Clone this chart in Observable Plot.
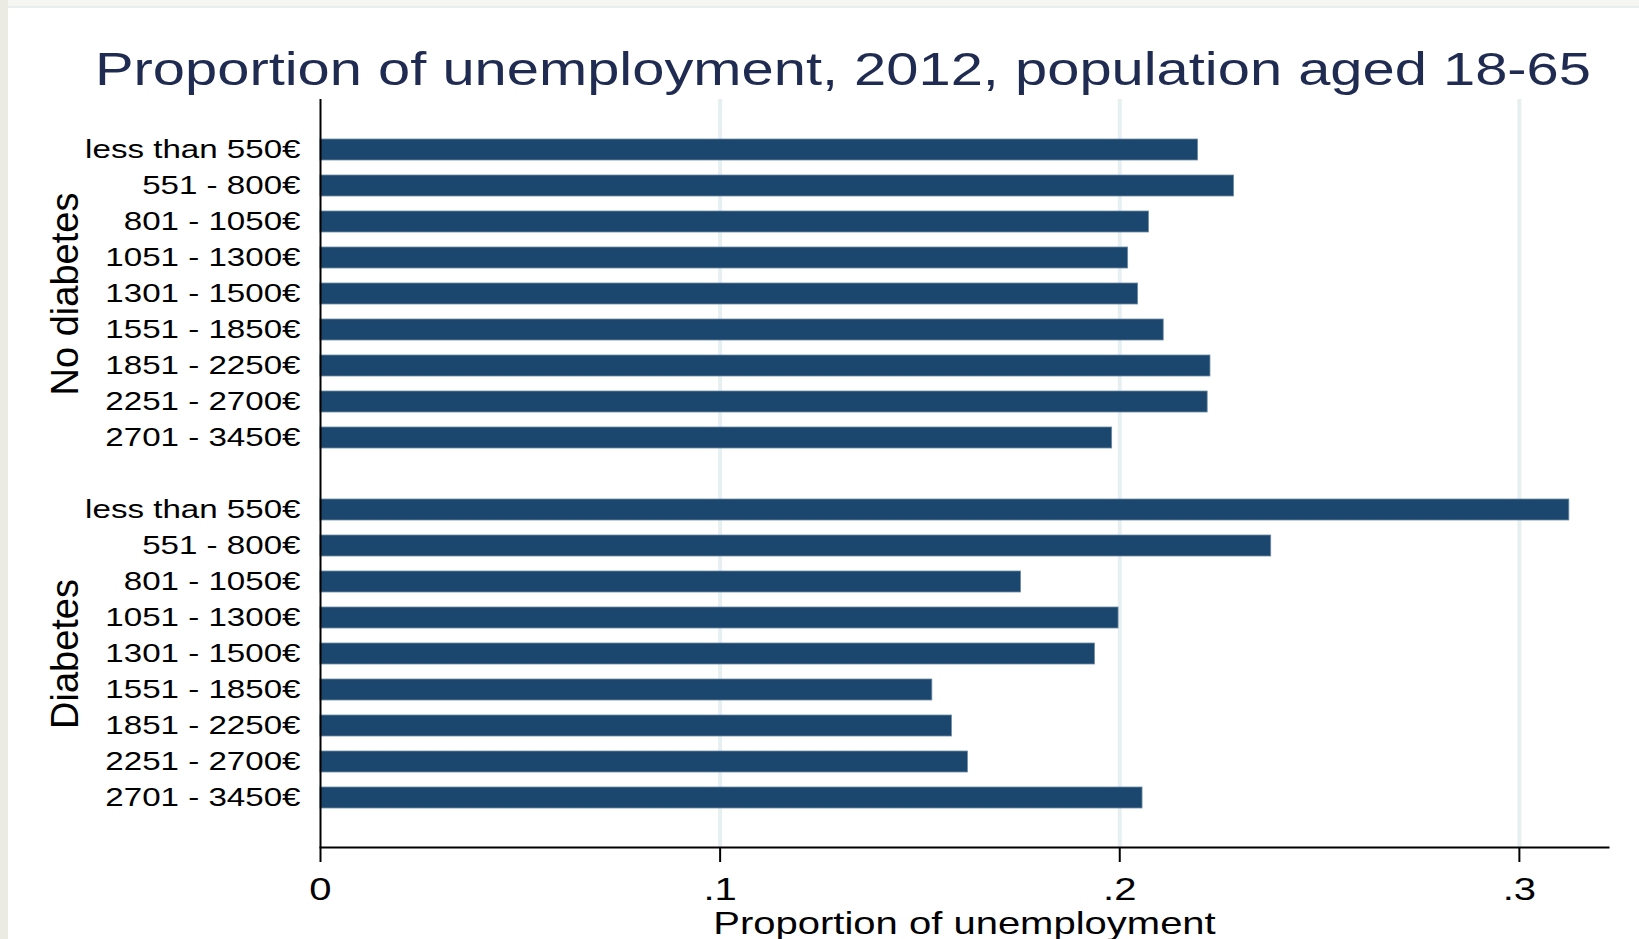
<!DOCTYPE html>
<html><head><meta charset="utf-8">
<script src="https://cdn.jsdelivr.net/npm/d3@7"></script>
<script src="https://cdn.jsdelivr.net/npm/@observablehq/plot@0.6"></script>
<style>
html,body{margin:0;padding:0;background:#fff;}
body{width:1639px;height:939px;position:relative;overflow:hidden;font-family:"Liberation Sans",Arial,sans-serif;}
#topband{position:absolute;left:0;top:0;width:1639px;height:6px;background:#f5f5f1;border-bottom:2px solid #e6eeee;}
#leftband{position:absolute;left:0;top:0;width:8px;height:939px;background:#ecebe3;}
#title{position:absolute;left:95px;top:46px;font-size:46px;line-height:46px;color:#1f2b50;white-space:nowrap;transform:scaleX(1.258);transform-origin:0 0;}
#chart{position:absolute;left:0;top:90px;}
</style></head>
<body>
<div id="topband"></div><div id="leftband"></div>
<div id="title"></div>
<div id="chart"></div>
<script>
const title = "Proportion of unemployment, 2012, population aged 18-65";
const xLabel = "Proportion of unemployment";
const groups = ["No diabetes", "Diabetes"];
const incomeBands = ["less than 550€", "551 - 800€", "801 - 1050€", "1051 - 1300€", "1301 - 1500€", "1551 - 1850€", "1851 - 2250€", "2251 - 2700€", "2701 - 3450€"];
const noDiabetes = [0.2196, 0.2286, 0.2073, 0.2021, 0.2046, 0.2110, 0.2227, 0.2220, 0.1981];
const diabetes = [0.3125, 0.2379, 0.1753, 0.1997, 0.1938, 0.1531, 0.1580, 0.1620, 0.2057];
const xTicks = [0, 0.1, 0.2, 0.3];
const xTickLabels = ["0", ".1", ".2", ".3"];

document.getElementById("title").textContent = title;

const seriesByGroup = [noDiabetes, diabetes];
const keyOf = (g, b) => g + "|" + b;
const spacer = "|";
const rows = [];
groups.forEach((g, gi) => incomeBands.forEach((b, bi) => rows.push({group: g, band: b, key: keyOf(g, b), value: seriesByGroup[gi][bi]})));
const rowKeys = rows.map(r => r.key);
const yDomain = [...rowKeys.slice(0, incomeBands.length), spacer, ...rowKeys.slice(incomeBands.length)];
const midBand = incomeBands[Math.floor(incomeBands.length / 2)];
const groupLabelRows = groups.map(g => ({group: g, key: keyOf(g, midBand)}));

const chart = Plot.plot({
  width: 1639, height: 849,
  marginTop: 9, marginBottom: 92, marginLeft: 320, marginRight: 31,
  style: {fontFamily: '"Liberation Sans", Arial, sans-serif', fontSize: "26.5px", color: "black", background: "transparent", overflow: "visible"},
  x: {domain: [0, 0.3223], axis: null},
  y: {domain: yDomain, paddingInner: 0.417, paddingOuter: 1.09, axis: null},
  marks: [
    Plot.ruleX(xTicks.slice(1), {stroke: "#e7eff1", strokeWidth: 4}),
    Plot.barX(rows, {x: "value", y: "key", fill: "#1b476e", stroke: "#6d8aa4", strokeWidth: 0.8}),
    Plot.ruleX([0], {stroke: "black", strokeWidth: 2}),
    Plot.frame({anchor: "bottom", stroke: "black", strokeWidth: 2}),
    Plot.axisX({ticks: xTicks, anchor: "bottom", tickSize: 15, tickPadding: 15, strokeWidth: 2, fontSize: 32,
      tickFormat: d => xTickLabels[xTicks.indexOf(d)], label: null}),
    Plot.axisY({ticks: rowKeys, anchor: "left", tickSize: 0, tickPadding: 20, fontSize: 26.5,
      tickFormat: k => k.split("|")[1], label: null}),
    Plot.text([xLabel], {frameAnchor: "bottom", dy: 64, lineAnchor: "top", fontSize: 32}),
    Plot.text(groupLabelRows, {y: "key", text: "group", frameAnchor: "left", dx: -243, rotate: -90,
      textAnchor: "middle", lineAnchor: "bottom", fontSize: 38})
  ]
});
document.getElementById("chart").appendChild(chart);

const yLabelSet = new Set(incomeBands);
const xTickSet = new Set(xTickLabels);
chart.querySelectorAll("text").forEach(t => {
  const s = t.textContent;
  if (yLabelSet.has(s) || xTickSet.has(s) || s === xLabel) {
    const tr = t.getAttribute("transform") || "";
    t.setAttribute("transform", tr + " scale(1.25,1)");
  }
});
</script>
</body></html>
